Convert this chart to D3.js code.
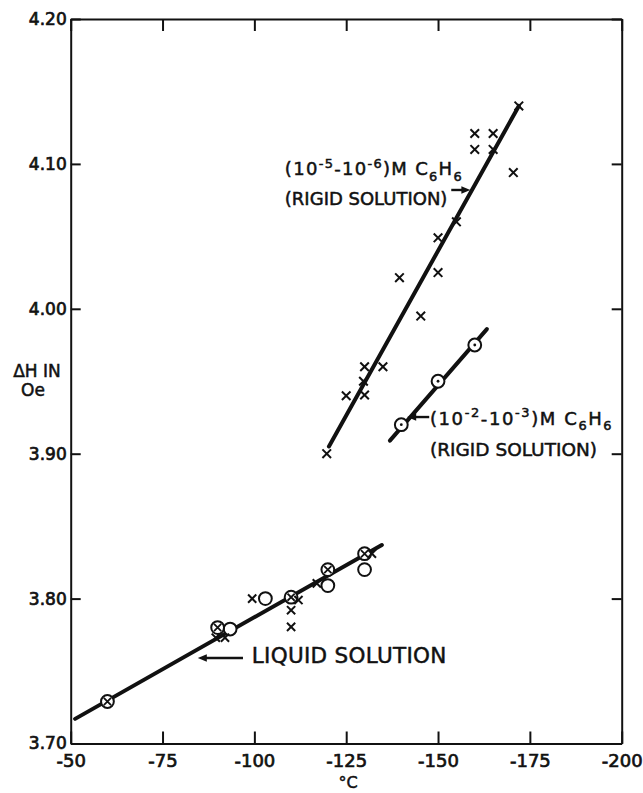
<!DOCTYPE html>
<html>
<head>
<meta charset="utf-8">
<script src="https://cdn.jsdelivr.net/npm/d3@7"></script>
<style>
  body { margin: 0; background: #fff; }
  svg { display: block; }
  text { font-family: 'DejaVu Sans', sans-serif; fill: #111; }
</style>
</head>
<body>
<div id="chart"></div>
<script>
// tick values
const xTicks = [-50, -75, -100, -125, -150, -175, -200]
const yTicks = [3.70, 3.80, 3.90, 4.00, 4.10, 4.20]

// (1e-5 - 1e-6) M C6H6, rigid solution  (crosses)
const diluteT = [-172, -160, -165, -160, -165, -170.5, -155, -150, -150, -139.5, -145.3, -130, -135, -129.7, -130, -125, -119.7]
const diluteV = [4.140, 4.121, 4.121, 4.110, 4.110, 4.094, 4.060, 4.049, 4.025, 4.0215, 3.995, 3.960, 3.960, 3.950, 3.9405, 3.940, 3.900]
const diluteFitT = [-120.3, -172]
const diluteFitV = [3.905, 4.140]

// (1e-2 - 1e-3) M C6H6, rigid solution  (dotted circles)
const concT = [-160, -150, -140]
const concV = [3.975, 3.950, 3.920]
const concFitT = [-136.9, -163.3]
const concFitV = [3.909, 3.986]

// liquid solution
const liqCrossCircT = [-60, -90, -110, -120, -130]
const liqCrossCircV = [3.729, 3.780, 3.801, 3.820, 3.831]
const liqCircT = [-93.4, -103, -120, -130]
const liqCircV = [3.779, 3.800, 3.809, 3.820]
const liqCrossT = [-89.5, -92, -99.4, -112, -110, -110, -117, -132]
const liqCrossV = [3.773, 3.773, 3.800, 3.799, 3.792, 3.7805, 3.8105, 3.831]
const liqFitT = [-51.2, -134.7]
const liqFitV = [3.717, 3.837]

const dimension = {
    width: 643,
    height: 793,
    margin: { top: 19, right: 21.3, bottom: 49.5, left: 70.7 }
}
const innerW = dimension.width - dimension.margin.left - dimension.margin.right
const innerH = dimension.height - dimension.margin.top - dimension.margin.bottom

const xScale = d3.scaleLinear().domain([-50, -200]).range([0, innerW])
const yScale = d3.scaleLinear().domain([3.70, 4.20]).range([innerH, 0])

const svg = d3.select('#chart')
    .append('svg')
    .attr('width', dimension.width)
    .attr('height', dimension.height)

const ctr = svg.append('g')
    .attr('transform', `translate(${dimension.margin.left}, ${dimension.margin.top})`)

// axes, ticks pointing inward
const styleAxis = g => {
    g.select('.domain').attr('stroke', '#111').attr('stroke-width', 2)
    g.selectAll('.tick line').attr('stroke', '#111').attr('stroke-width', 2)
    g.selectAll('text')
        .style('font-family', "'DejaVu Sans', sans-serif")
        .style('fill', '#111')
        .style('stroke', '#111')
        .style('stroke-width', 0.7)
}

ctr.append('g')
    .attr('transform', `translate(0, ${innerH})`)
    .call(d3.axisBottom(xScale).tickValues(xTicks).tickSize(-12).tickSizeOuter(0)
        .tickPadding(11).tickFormat(d => String(d)))
    .call(styleAxis)
    .call(g => g.selectAll('text').style('font-size', '18px'))

ctr.append('g')
    .call(d3.axisTop(xScale).tickValues(xTicks).tickSize(-12).tickSizeOuter(0).tickFormat(''))
    .call(styleAxis)

ctr.append('g')
    .call(d3.axisLeft(yScale).tickValues(yTicks).tickSize(-10).tickSizeOuter(0)
        .tickPadding(4).tickFormat(d3.format('.2f')))
    .call(styleAxis)
    .call(g => g.selectAll('text').style('font-size', '17px'))

ctr.append('g')
    .attr('transform', `translate(${innerW}, 0)`)
    .call(d3.axisRight(yScale).tickValues(yTicks).tickSize(-10).tickSizeOuter(0).tickFormat(''))
    .call(styleAxis)

// fitted lines
const fitLine = (ts, vs) => {
    ctr.append('line')
        .attr('x1', xScale(ts[0])).attr('y1', yScale(vs[0]))
        .attr('x2', xScale(ts[1])).attr('y2', yScale(vs[1]))
        .attr('stroke', '#111')
        .attr('stroke-width', 4)
        .attr('stroke-linecap', 'round')
}
fitLine(diluteFitT, diluteFitV)
fitLine(concFitT, concFitV)
fitLine(liqFitT, liqFitV)

// markers
const crossPath = s => `M${-s},${-s}L${s},${s}M${s},${-s}L${-s},${s}`

const drawCrosses = (ts, vs, s) => {
    ctr.append('g')
        .selectAll('path')
        .data(d3.zip(ts, vs))
        .join('path')
        .attr('transform', d => `translate(${xScale(d[0])}, ${yScale(d[1])})`)
        .attr('d', crossPath(s))
        .attr('stroke', '#111')
        .attr('stroke-width', 2)
        .attr('fill', 'none')
}

const drawCircles = (ts, vs, inner) => {
    const g = ctr.append('g')
        .selectAll('g')
        .data(d3.zip(ts, vs))
        .join('g')
        .attr('transform', d => `translate(${xScale(d[0])}, ${yScale(d[1])})`)
    g.append('circle')
        .attr('r', 6.4)
        .attr('fill', '#fff')
        .attr('stroke', '#111')
        .attr('stroke-width', 2)
    if (inner === 'dot') {
        g.append('circle').attr('r', 1.4).attr('fill', '#111')
    } else if (inner === 'cross') {
        g.append('path').attr('d', crossPath(3.6))
            .attr('stroke', '#111').attr('stroke-width', 1.8)
    }
}

drawCrosses(diluteT, diluteV, 4.3)
drawCircles(concT, concV, 'dot')
drawCircles(liqCircT, liqCircV, null)
drawCircles(liqCrossCircT, liqCrossCircV, 'cross')
drawCrosses(liqCrossT, liqCrossV, 4.1)

// annotations
const richText = (x, y, parts, size, spacing) => {
    const t = ctr.append('text')
        .attr('x', x).attr('y', y)
        .style('font-size', size + 'px')
        .style('letter-spacing', spacing + 'px')
        .style('stroke', '#111')
        .style('stroke-width', 0.5)
    let shift = 0
    parts.forEach(p => {
        const target = p[1] === 'sup' ? -size * 0.42 : p[1] === 'sub' ? size * 0.28 : 0
        t.append('tspan')
            .attr('dy', target - shift)
            .style('font-size', p[1] ? (size * 0.72) + 'px' : null)
            .text(p[0])
        shift = target
    })
}

const arrow = (t1, t2, v) => {
    const x1 = xScale(t1), x2 = xScale(t2), y = yScale(v)
    const dir = Math.sign(x2 - x1)
    ctr.append('line')
        .attr('x1', x1).attr('y1', y).attr('x2', x2 - dir * 6).attr('y2', y)
        .attr('stroke', '#111').attr('stroke-width', 2.4)
    ctr.append('path')
        .attr('d', `M${x2},${y}L${x2 - dir * 9},${y - 3.8}L${x2 - dir * 9},${y + 3.8}Z`)
        .attr('fill', '#111')
}

const concLabel = [['(10'], ['-5', 'sup'], ['-10'], ['-6', 'sup'], [')M C'], ['6', 'sub'], ['H'], ['6', 'sub']]
richText(xScale(-108.3), yScale(4.092), concLabel, 18, 1.3)
richText(xScale(-108.3), yScale(4.0717), [['(RIGID SOLUTION)']], 18, 0)
arrow(-153.6, -158.8, 4.082)

const concLabel2 = [['(10'], ['-2', 'sup'], ['-10'], ['-3', 'sup'], [')M C'], ['6', 'sub'], ['H'], ['6', 'sub']]
richText(xScale(-147.8), yScale(3.9198), concLabel2, 18, 1.6)
richText(xScale(-147.8), yScale(3.8984), [['(RIGID SOLUTION)']], 18.5, 0)
arrow(-147.6, -141.6, 3.9253)

richText(xScale(-99.3), yScale(3.7556), [['LIQUID SOLUTION']], 21.5, 0.3)
arrow(-96.9, -84.6, 3.759)

// axis titles
svg.append('text')
    .attr('x', 37).attr('y', 377)
    .attr('text-anchor', 'middle')
    .style('font-size', '17px')
    .style('stroke', '#111').style('stroke-width', 0.5)
    .text('ΔH IN')
svg.append('text')
    .attr('x', 33).attr('y', 396)
    .attr('text-anchor', 'middle')
    .style('font-size', '17px')
    .style('stroke', '#111').style('stroke-width', 0.5)
    .text('Oe')
svg.append('text')
    .attr('x', dimension.margin.left + xScale(-125.5)).attr('y', 788)
    .attr('text-anchor', 'middle')
    .style('font-size', '16px')
    .style('stroke', '#111').style('stroke-width', 0.5)
    .text('°C')
</script>
</body>
</html>
